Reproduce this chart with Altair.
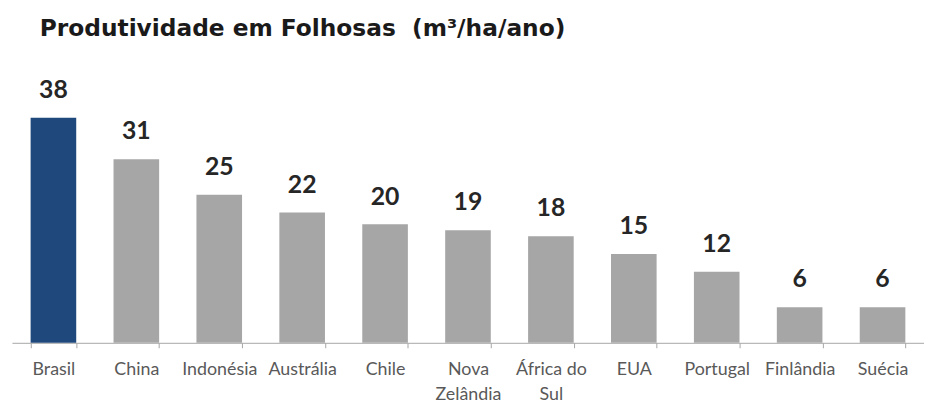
import altair as alt
import pandas as pd

categories = ["Brasil", "China", "Indonésia", "Austrália", "Chile", "Nova Zelândia",
              "África do Sul", "EUA", "Portugal", "Finlândia", "Suécia"]
values = [38, 31, 25, 22, 20, 19, 18, 15, 12, 6, 6]
colors = ["#1F497D"] + ["#A6A6A6"] * 10

df = pd.DataFrame({"pais": categories, "valor": values, "cor": colors})

label_expr = ("datum.label == 'Nova Zelândia' ? ['Nova', 'Zelândia'] : "
              "datum.label == 'África do Sul' ? ['África do', 'Sul'] : datum.label")

x = alt.X("pais:N", sort=categories, title=None,
          scale=alt.Scale(paddingInner=0.45, paddingOuter=0.225),
          axis=alt.Axis(labelAngle=0, labelFont="Lato", labelFontSize=18,
                        labelColor="#595959", labelPadding=13, labelLineHeight=25,
                        labelBaseline="top", labelExpr=label_expr,
                        domainColor="#A6A6A6", tickColor="#A6A6A6", tickSize=5,
                        tickBand="extent", labelOverlap=False))
y = alt.Y("valor:Q", title=None, scale=alt.Scale(domain=[0, 40]), axis=None)

bars = alt.Chart(df).mark_bar().encode(x=x, y=y, color=alt.Color("cor:N", scale=None))
text = alt.Chart(df).mark_text(font="Lato", fontSize=25, fontWeight="bold",
                               color="#262626", baseline="alphabetic", dy=-20).encode(
    x=alt.X("pais:N", sort=categories), y="valor:Q", text="valor:Q")

chart = (bars + text).properties(
    width=920, height=239,
    autosize=alt.AutoSizeParams(type="none"),
    padding={"left": 4, "top": 97, "right": 0, "bottom": 60},
    title=alt.TitleParams("Produtividade em Folhosas\u00a0\u00a0(m³/ha/ano)", anchor="start",
                          font="DejaVu Sans", fontSize=23.5, fontWeight="bold",
                          color="#1a1a1a", dx=28, offset=38),
).configure_view(stroke=None)

chart.save("out.html", embed_options={"renderer": "svg", "actions": False})
